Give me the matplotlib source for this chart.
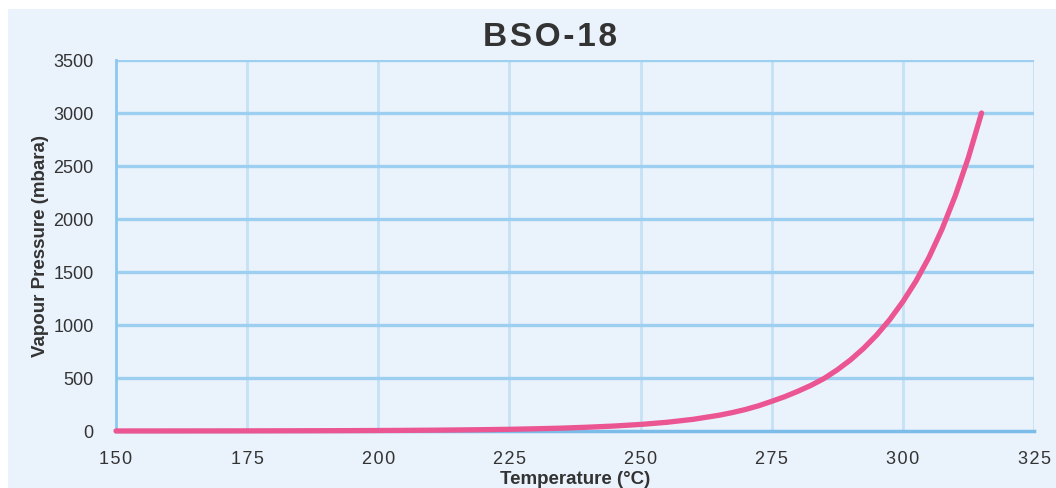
import matplotlib.pyplot as plt
from matplotlib.patches import Rectangle

# Vapour pressure curve (finer steps where it is steep)
temperature = [150, 155, 160, 165, 170, 175, 180, 185, 190, 195, 200, 205,
               210, 215, 220, 225, 230, 235, 240, 245, 250, 255, 260, 265,
               267.5, 270, 272.5, 275, 277.5, 280, 282.5, 285, 287.5, 290,
               292.5, 295, 297.5, 300, 302.5, 305, 307.5, 310, 312.5, 315]
pressure = [0.35, 0.45, 0.6, 0.8, 1.0, 1.3, 1.7, 2.2, 2.8, 3.6, 4.6, 5.9,
            7.6, 9.8, 12.5, 16, 21, 27, 36, 47, 62, 82, 110, 149,
            174, 203, 238, 280, 324, 375, 431, 496, 577, 670,
            779, 905, 1051, 1220, 1414, 1640, 1908, 2220, 2581, 3000]
x_ticks = [150, 175, 200, 225, 250, 275, 300, 325]
y_ticks = [0, 500, 1000, 1500, 2000, 2500, 3000, 3500]

plt.rcParams['font.family'] = ['Liberation Sans', 'DejaVu Sans']

fig = plt.figure(figsize=(10.56, 4.89), dpi=100)
fig.patch.set_facecolor('white')
fig.patches.append(Rectangle((8 / 1056, 0), 1, (489 - 10) / 489,
                             transform=fig.transFigure, facecolor='#EAF2FC',
                             edgecolor='none', zorder=-10))

ax = fig.add_axes([116 / 1056, 57 / 489, 918 / 1056, 371 / 489])
ax.set_facecolor('#EAF2FC')

for t in x_ticks[1:]:
    ax.axvline(t, color='#C5E1F5', lw=2, zorder=1)
for p in y_ticks[1:]:
    ax.axhline(p, color='#9DCFF0', lw=2.4, zorder=1)

ax.plot(temperature, pressure, color='#EB5591', lw=3.8,
        solid_capstyle='round', solid_joinstyle='round', zorder=3,
        clip_on=False)

ax.set_xlim(150, 325)
ax.set_ylim(0, 3500)
ax.set_xticks(x_ticks)
ax.set_yticks(y_ticks)
ax.set_xticklabels(['\u200a'.join(str(t)) for t in x_ticks])
ax.tick_params(length=0, labelsize=13, colors='#333333')
ax.tick_params(axis='x', pad=14)
ax.tick_params(axis='y', pad=16)

for side in ['top', 'right']:
    ax.spines[side].set_visible(False)
ax.spines['left'].set_color('#8CC8EE')
ax.spines['left'].set_linewidth(2)
ax.spines['bottom'].set_color('#7BBCE8')
ax.spines['bottom'].set_linewidth(2.5)
ax.spines['bottom'].set_zorder(2)

fig.text(550 / 1056, 1 - 38 / 489, '\u200a'.join('BSO-18'), ha='center',
         va='center', fontsize=24, fontweight='bold', color='#333333')
fig.text(575 / 1056, 1 - 480 / 489, 'Temperature (°C)', ha='center',
         va='center', fontsize=13.5, fontweight='bold', color='#333333')
fig.text(41 / 1056, 1 - 246 / 489, 'Vapour Pressure (mbara)', ha='center',
         va='center', rotation=90, fontsize=13.5, fontweight='bold',
         color='#333333')

fig.savefig('out.png', dpi=100)
